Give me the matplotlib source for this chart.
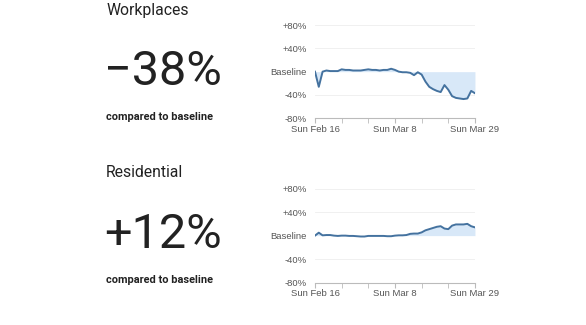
import numpy as np
import pandas as pd
import matplotlib
matplotlib.use('Agg')
import matplotlib.pyplot as plt

dates = pd.date_range('2020-02-16', '2020-03-29', freq='D')

workplaces = [0, -26, 0, 2, 1, 1, 1, 4, 3, 3, 2, 2, 2, 3, 4, 3, 3, 2, 3, 3,
              5, 3, 0, -1, -1, -2, -6, -1, -5, -17, -26, -30, -33, -35, -23,
              -31, -42, -45, -46, -47, -46, -33, -37]
residential = [0, 5, 0.5, 1, 1, 0, -0.5, 0, 0, -0.5, -0.5, -1, -1.5, -1.5,
               -0.5, -0.5, -0.5, -0.5, -0.5, -1, -1, 0, 0.5, 0.5, 1, 3, 3.5,
               3.5, 5.5, 9, 11, 13, 15, 16, 12, 11, 17, 19, 19, 19, 20, 16, 14]

categories = ['Workplaces', 'Residential']
headlines = ['\u221238%', '+12%']
series = [workplaces, residential]

ytick_vals = [-80, -40, 0, 40, 80]
ytick_labels = ['-80%', '-40%', 'Baseline', '+40%', '+80%']
xtick_dates = pd.to_datetime(['2020-02-16', '2020-03-08', '2020-03-29'])
xtick_labels = ['Sun Feb 16', 'Sun Mar 8', 'Sun Mar 29']
week_ticks = pd.date_range('2020-02-16', '2020-03-29', freq='7D')

line_col = '#44729f'
fill_col = '#d8e8f8'

fig = plt.figure(figsize=(5.86, 3.25), dpi=100)

axes_rects = [[0.5375, 0.636, 0.273, 0.287], [0.5375, 0.130, 0.273, 0.290]]
text_y = [(0.954, 0.738, 0.631), (0.455, 0.237, 0.129)]

for i in range(2):
    ax = fig.add_axes(axes_rects[i])
    vals = np.array(series[i])
    ax.fill_between(dates, vals, 0, color=fill_col, lw=0)
    ax.plot(dates, vals, color=line_col, lw=1.4)
    ax.set_ylim(-80, 80)
    ax.set_xlim(dates[0], dates[-1])
    ax.set_yticks(ytick_vals)
    ax.set_yticklabels(ytick_labels)
    ax.set_xticks(xtick_dates)
    ax.set_xticklabels(xtick_labels)
    ax.set_xticks(week_ticks, minor=True)
    for y in [40, 80, -40]:
        ax.axhline(y, color='#eeeeee', lw=0.6, zorder=0)
    for s in ['top', 'right', 'left']:
        ax.spines[s].set_visible(False)
    ax.spines['bottom'].set_color('#bbbbbb')
    ax.spines['bottom'].set_linewidth(0.8)
    ax.tick_params(axis='y', length=0, pad=6, labelsize=6.8, labelcolor='#555555')
    ax.tick_params(axis='x', which='both', length=3.5, color='#bbbbbb',
                   labelsize=6.8, labelcolor='#555555', pad=1)
    for lbl in ax.get_xticklabels() + ax.get_yticklabels():
        lbl.set_fontfamily('Liberation Sans')

    ty, hy, cy = text_y[i]
    fig.text(0.181, ty, categories[i], fontsize=11.3, family='Roboto',
             color='#222222', va='baseline')
    fig.text(0.178, hy, headlines[i], fontsize=35, family='Roboto',
             color='#222222', va='baseline')
    fig.text(0.181, cy, 'compared to baseline', fontsize=7.9, family='Roboto',
             weight='bold', color='#222222', va='baseline')

fig.savefig('out.png', dpi=100)
